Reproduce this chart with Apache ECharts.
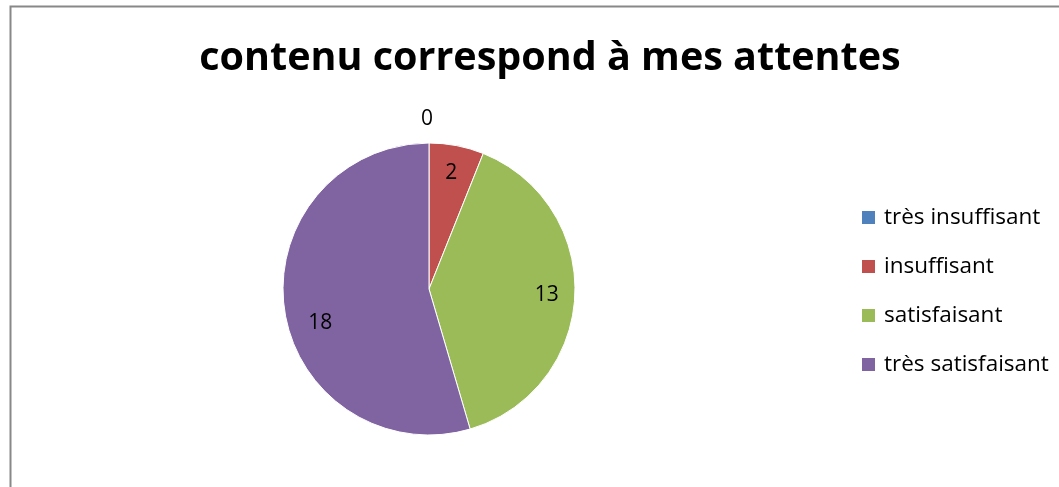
<!DOCTYPE html>
<html>
<head>
<meta charset="utf-8">
<script src="https://cdn.jsdelivr.net/npm/echarts@6/dist/echarts.min.js"></script>
<style>
  html, body { margin: 0; padding: 0; background: #fff; }
  #main { width: 1059px; height: 487px; }
</style>
</head>
<body>
<div id="main"></div>
<script>
  var titleText = 'contenu correspond à mes attentes';
  var categories = ['très insuffisant', 'insuffisant', 'satisfaisant', 'très satisfaisant'];
  var values = [0, 2, 13, 18];
  var colors = ['#4F81BD', '#C0504D', '#9BBB59', '#8064A2'];

  var font = '"Open Sans", "Liberation Sans", sans-serif';

  var pieData = [];
  var labelData = [];
  for (var i = 0; i < categories.length; i++) {
    pieData.push({ name: categories[i], value: values[i] });
    var item = { name: categories[i], value: values[i] };
    if (values[i] === 0) {
      // zero slice: label sits just above the pie
      item.label = { offset: [-2, -52] };
    } else if (i === categories.length - 1) {
      // excel nudges this one a bit lower
      item.label = { offset: [8, 17] };
    }
    labelData.push(item);
  }

  var chart = echarts.init(document.getElementById('main'));
  var option = {
    animation: false,
    color: colors,
    title: {
      text: titleText,
      left: 545,
      top: 34,
      textAlign: 'center',
      textStyle: {
        fontFamily: font,
        fontSize: 39.5,
        fontWeight: 'bold',
        color: '#000'
      }
    },
    legend: {
      orient: 'vertical',
      left: 860,
      top: 206,
      padding: 0,
      icon: 'rect',
      itemWidth: 15,
      itemHeight: 15,
      itemGap: 26,
      textStyle: {
        fontFamily: font,
        fontSize: 22.5,
        lineHeight: 22,
        padding: [0, 0, 0, 3],
        color: '#000'
      },
      data: categories
    },
    graphic: [{
      type: 'rect',
      shape: { x: 10.5, y: 6.5, width: 1100, height: 600 },
      style: { fill: null, stroke: '#888', lineWidth: 2 },
      silent: true
    }],
    series: [{
      type: 'pie',
      center: [429, 289],
      radius: [0, 146],
      startAngle: 90,
      clockwise: true,
      data: pieData,
      label: { show: false },
      labelLine: { show: false },
      itemStyle: { borderColor: '#fff', borderWidth: 1 },
      emphasis: { disabled: true }
    }, {
      // transparent ring only used to place the value labels
      type: 'pie',
      center: [429, 289],
      radius: [84, 146],
      startAngle: 90,
      clockwise: true,
      silent: true,
      avoidLabelOverlap: false,
      data: labelData,
      itemStyle: { color: 'rgba(0,0,0,0)' },
      label: {
        show: true,
        position: 'inside',
        formatter: '{c}',
        fontFamily: font,
        fontSize: 21,
        color: '#000'
      },
      labelLine: { show: false },
      emphasis: { disabled: true }
    }]
  };
  chart.setOption(option);
</script>
</body>
</html>
